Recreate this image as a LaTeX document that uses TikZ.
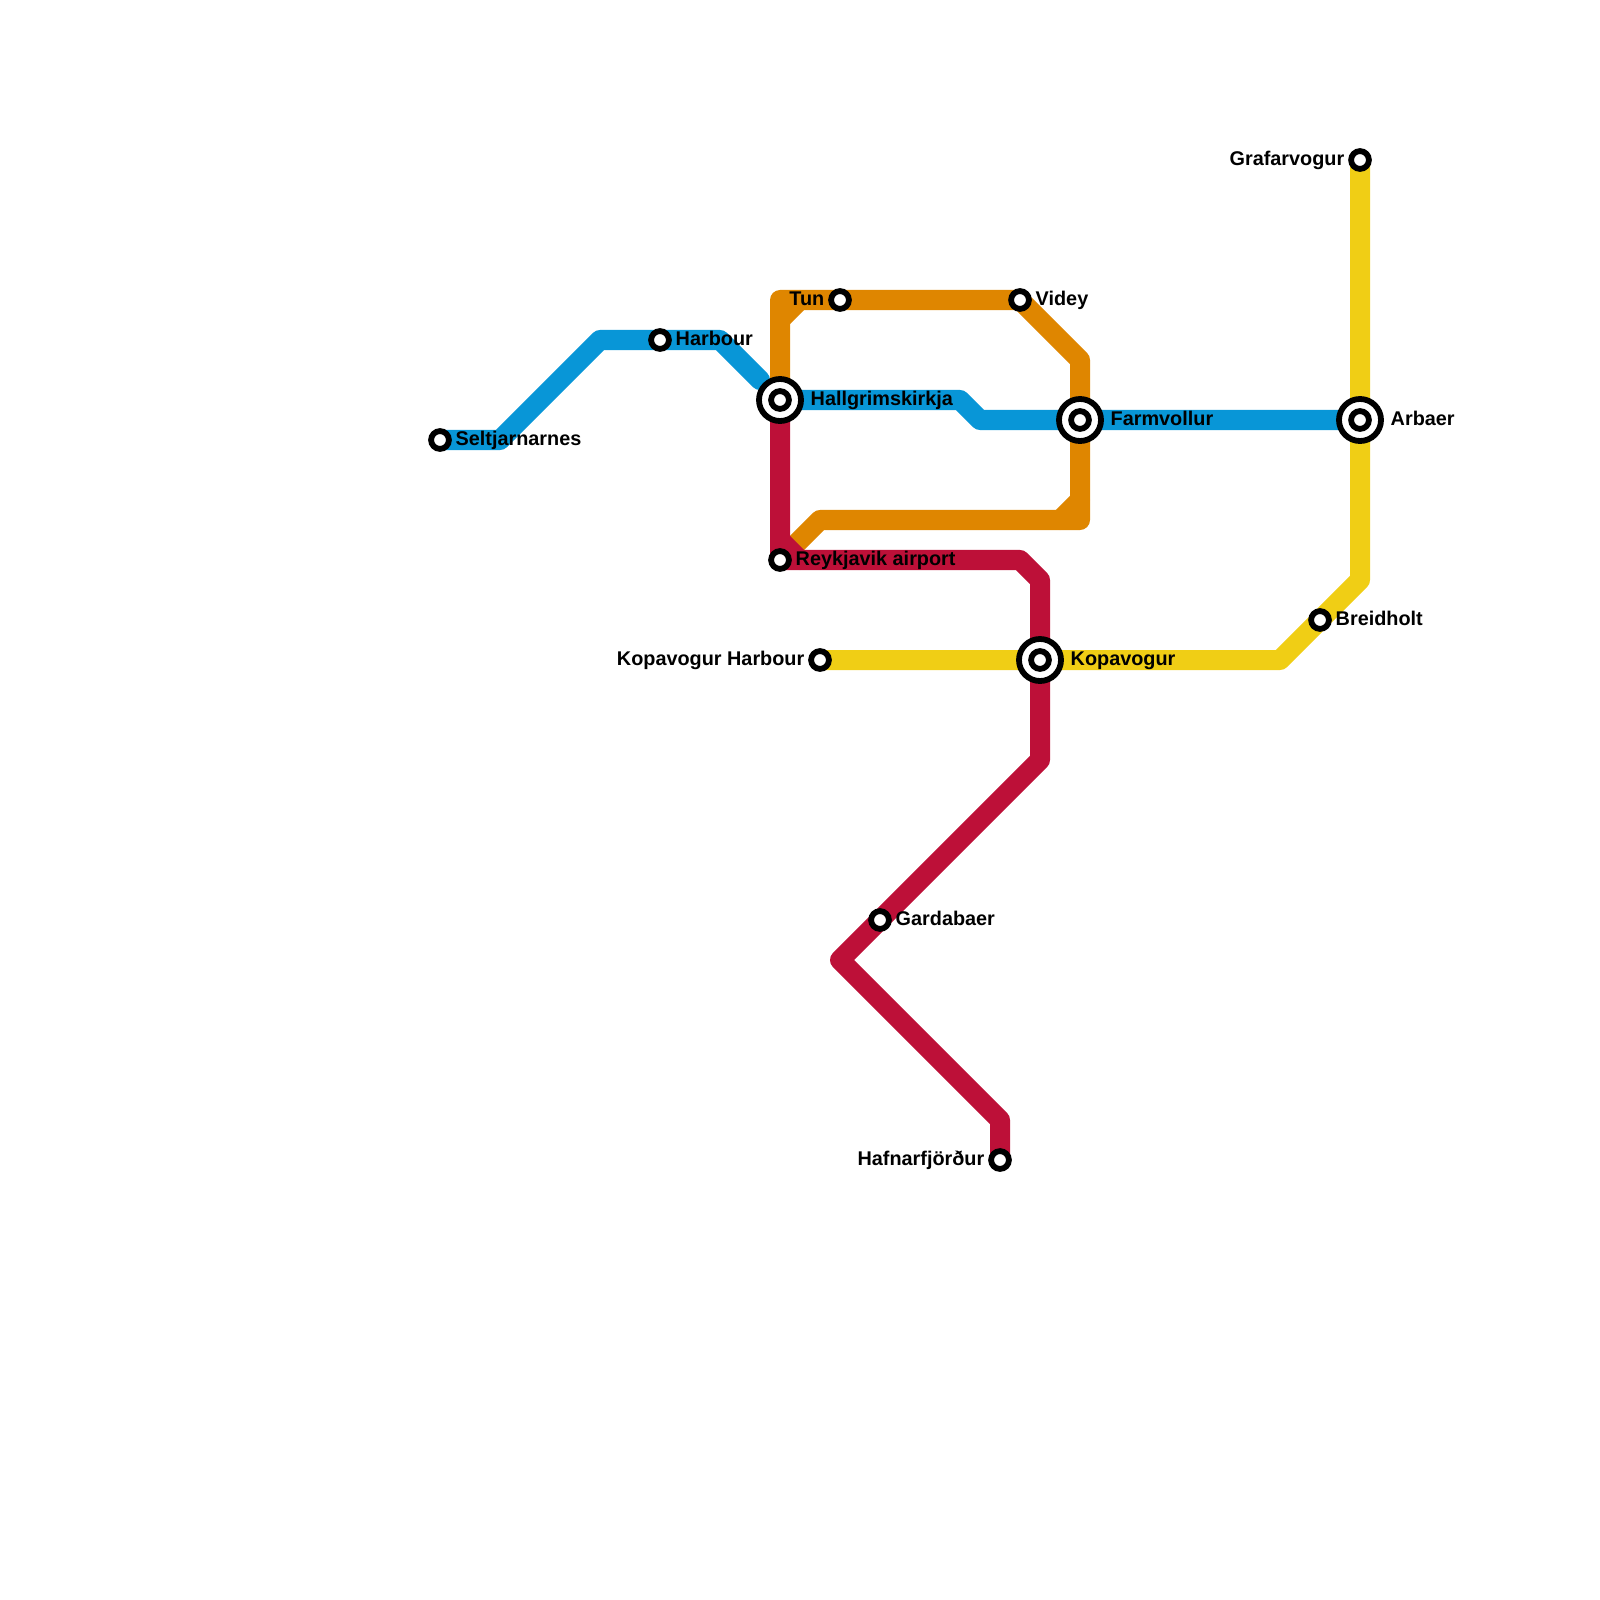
\documentclass[tikz,border=0pt]{standalone}
\usepackage{fontspec}
\setmainfont{Liberation Sans}
\usetikzlibrary{backgrounds}
\definecolor{lineblue}{HTML}{0896D7}
\definecolor{lineorange}{HTML}{DF8600}
\definecolor{linered}{HTML}{BD1038}
\definecolor{lineyellow}{HTML}{F0CE15}
\tikzset{
  metro/.style={
    line width=0.2cm,
    line cap=round,
    line join=round
  },
  stop/.style={
    circle,
    line width=0.058cm,
    fill=white,
    draw=black,
    minimum size=0.178cm,
    inner sep=0pt
  },
  hub/.style={
    stop,
    minimum size=0.42cm
  },
  tagtext/.style={
    inner sep=0pt,
    font=\bfseries\fontsize{5.64}{6.8}\selectfont
  },
  tagright/.style={tagtext, anchor=base west},
  tagleft/.style={tagtext, anchor=base east}
}

\begin{document}
\begin{tikzpicture}[x=0.01cm, y=-0.01cm]
  \useasboundingbox (0,0) rectangle (1600,1600);
  \foreach \n/\x/\y/\t in {hallgrim/780/400/Hallgrimskirkja,farm/1080/420/Farmvollur,kop/1040/660/Kopavogur,arbaer/1360/420/Arbaer} {
    \node[hub] (\n) at (\x,\y) {};
    \node[stop] (\n-dot) at (\x,\y) {};
    \node[tagright] (\n-tag) at (\x+30,\y+5.5) {\t};
  }
  \foreach \n/\x/\y/\t in {selt/440/440/Seltjarnarnes,harbour/660/340/Harbour,videy/1020/300/Videy,reyk/780/560/Reykjavik airport,breid/1320/620/Breidholt,gard/880/920/Gardabaer} {
    \node[stop] (\n) at (\x,\y) {};
    \node[tagright] (\n-tag) at (\x+15,\y+5.5) {\t};
  }
  \foreach \n/\x/\y/\t in {tun/840/300/Tun,graf/1360/160/Grafarvogur,kopharb/820/660/Kopavogur Harbour,hafn/1000/1160/Hafnarfjörður} {
    \node[stop] (\n) at (\x,\y) {};
    \node[tagleft] (\n-tag) at (\x-15,\y+5.5) {\t};
  }
  \foreach \n/\x/\y in {b1/500/440,b2/600/340,b3/720/340,b4/760/380,b5/960/400,b6/980/420,
      o1/780/300,o2/1080/360,o3/1080/520,o4/820/520,o5/780/320,o6/800/300,o7/1080/500,o8/1060/520,
      r1/1020/560,r2/1040/580,r3/1040/760,r4/840/960,r5/1000/1120,r6/780/540,r7/800/560,
      y1/1280/660,y2/1360/580} {
    \coordinate (\n) at (\x,\y);
  }
  \begin{scope}[on background layer]
    \draw[metro, lineblue] (selt.center) -- (b1) -- (b2) -- (harbour.center) -- (b3) -- (b4);
    \draw[metro, lineblue] (hallgrim.center) -- (b5) -- (b6) -- (farm.center) -- (arbaer.center);
    \draw[metro, lineorange] (hallgrim.center) -- (o1) -- (tun.center) -- (videy.center) -- (o2)
      -- (farm.center) -- (o3) -- (o4) -- (reyk.center);
    \draw[metro, lineorange] (o5) -- (o6);
    \draw[metro, lineorange] (o7) -- (o8);
    \draw[metro, linered] (hallgrim.center) -- (reyk.center) -- (r1) -- (r2) -- (kop.center)
      -- (r3) -- (gard.center) -- (r4) -- (r5) -- (hafn.center);
    \draw[metro, linered] (r6) -- (r7);
    \draw[metro, lineyellow] (kopharb.center) -- (kop.center) -- (y1) -- (breid.center)
      -- (y2) -- (arbaer.center) -- (graf.center);
  \end{scope}
\end{tikzpicture}
\end{document}
